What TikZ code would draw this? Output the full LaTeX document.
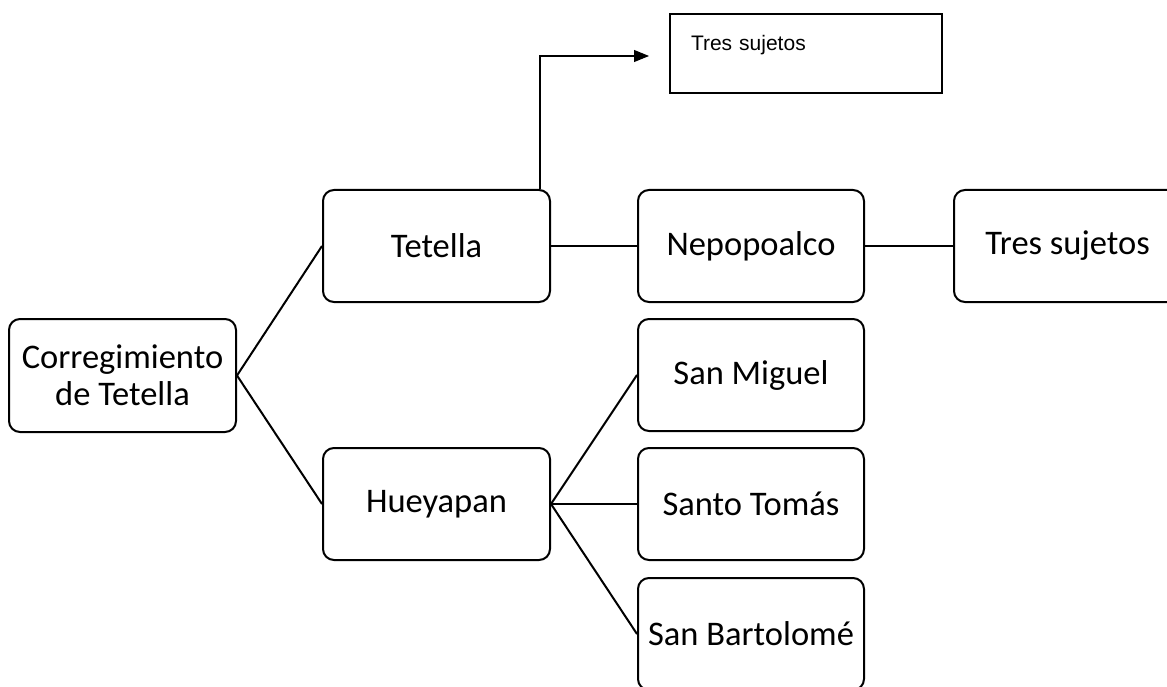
\documentclass[tikz,border=0pt]{standalone}
\usepackage{fontspec}
\setmainfont{Carlito}
\newfontfamily\arialfont{Liberation Sans}
\usetikzlibrary{arrows.meta}
\begin{document}
\begin{tikzpicture}[x=1pt,y=-1pt,
  rbox/.style={draw=black, line width=2pt, rounded corners=11pt, fill=white,
    minimum width=227pt, minimum height=112pt, inner sep=0pt, align=center,
    font=\fontsize{34.5}{37}\selectfont},
  conn/.style={draw=black, line width=2pt},
]
\path[use as bounding box] (0,0) rectangle (1167,687);
\begin{scope}
\clip (0,0) rectangle (1167,687);
\node[rbox, minimum height=113pt] (corr) at (122.5,375.5) {Corregimiento\\de Tetella};
\node[rbox] (tet) at (436.5,246) {Tetella};
\node[rbox] (hue) at (436.5,504) {Hueyapan};
\node[rbox, minimum width=226pt] (nep) at (751,246) {Nepopoalco};
\node[rbox] (tres) at (1067.5,246) {Tres sujetos};
\node[rbox, minimum width=226pt] (sm) at (751,375) {San Miguel};
\node[rbox, minimum width=226pt] (sto) at (751,504) {Santo Tomás};
\node[rbox, minimum width=226pt] (sb) at (751,634) {San Bartolomé};
\node[draw=black, line width=2pt, anchor=north west, minimum width=251pt,
  inner xsep=21pt, inner ysep=0pt, text height=37pt, text depth=42pt,
  text width=230pt, align=left, font=\arialfont\fontsize{21}{24}\selectfont]
  (small) at (669,13) {Tres sujetos};
\draw[conn] (corr.east) -- (tet.west);
\draw[conn] (corr.east) -- (hue.west);
\draw[conn] (tet.east) -- (nep.west);
\draw[conn] (nep.east) -- (tres.west);
\draw[conn] (hue.east) -- (sm.west);
\draw[conn] (hue.east) -- (sto.west);
\draw[conn] (hue.east) -- (sb.west);
\coordinate (tip) at (649,56);
\draw[line width=1.1pt, -{Triangle[length=15pt,width=12pt]}] (tet.north -| 540,0) |- (tip);
\end{scope}
\end{tikzpicture}
\end{document}
